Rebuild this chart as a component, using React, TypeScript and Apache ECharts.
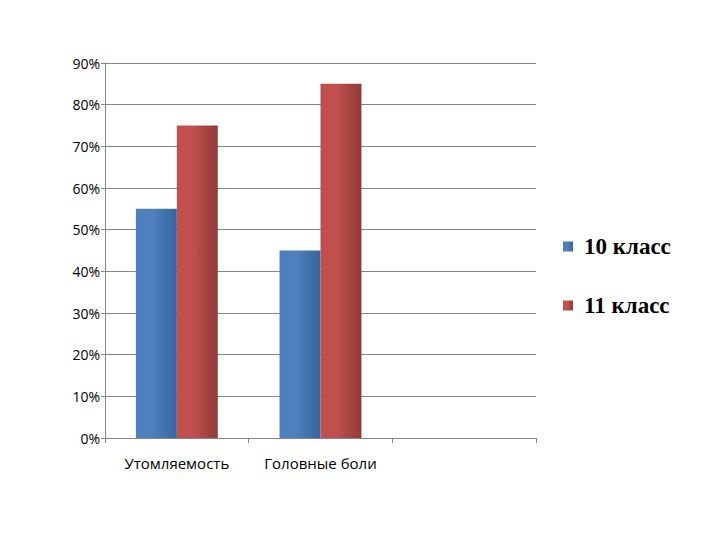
import React, { useEffect, useRef } from 'react';
import * as echarts from 'echarts';

const categories = ['Утомляемость', 'Головные боли', ''];
const grade10 = [0.55, 0.45, null];
const grade11 = [0.75, 0.85, null];
const seriesNames = ['10 класс', '11 класс'];

const gradient = (light: string, mid: string, dark: string) =>
  new echarts.graphic.LinearGradient(0, 0, 1, 0, [
    { offset: 0, color: light },
    { offset: 0.4, color: mid },
    { offset: 1, color: dark },
  ]);

const App: React.FC = () => {
  const chartRef = useRef<HTMLDivElement>(null);

  useEffect(() => {
    const myChart = echarts.init(chartRef.current, null, { renderer: 'svg' });

    const option = {
      animation: false,
      backgroundColor: '#ffffff',
      grid: { left: 105, right: 184, top: 63, bottom: 102 },
      legend: {
        orient: 'vertical',
        left: 558,
        top: 230,
        itemGap: 36,
        itemWidth: 10,
        itemHeight: 10,
        icon: 'rect',
        data: seriesNames,
        textStyle: {
          fontFamily: 'Liberation Serif',
          fontWeight: 'bold',
          fontSize: 23,
          color: '#000',
          padding: [0, 0, 0, 6],
        },
      },
      xAxis: {
        type: 'category',
        data: categories,
        axisLine: { lineStyle: { color: '#868686' } },
        axisTick: { show: true, length: 5, lineStyle: { color: '#868686' } },
        axisLabel: {
          interval: 0,
          fontFamily: 'Open Sans',
          fontSize: 15,
          color: '#000',
          margin: 17,
        },
      },
      yAxis: {
        type: 'value',
        min: 0,
        max: 0.9,
        interval: 0.1,
        axisLine: { show: true, lineStyle: { color: '#868686' } },
        axisTick: { show: true, length: 4, lineStyle: { color: '#868686' } },
        splitLine: { lineStyle: { color: '#868686' } },
        axisLabel: {
          fontFamily: 'Open Sans',
          fontSize: 14,
          color: '#000',
          margin: 5,
          formatter: (v: number) => Math.round(v * 100) + '%',
        },
      },
      series: [
        {
          name: seriesNames[0],
          type: 'bar',
          data: grade10,
          barGap: '0%',
          barCategoryGap: '43%',
          color: '#4f81bd',
          itemStyle: { color: gradient('#4a7ebd', '#4f81bd', '#36659c') },
        },
        {
          name: seriesNames[1],
          type: 'bar',
          data: grade11,
          color: '#c0504d',
          itemStyle: { color: gradient('#c24f4c', '#c0504d', '#8f3a38') },
        },
      ],
    };

    myChart.setOption(option);

    return () => {
      myChart.dispose();
    };
  }, []);

  return <div ref={chartRef} style={{ width: 720, height: 540, margin: -8 }}></div>;
};

export default App;
